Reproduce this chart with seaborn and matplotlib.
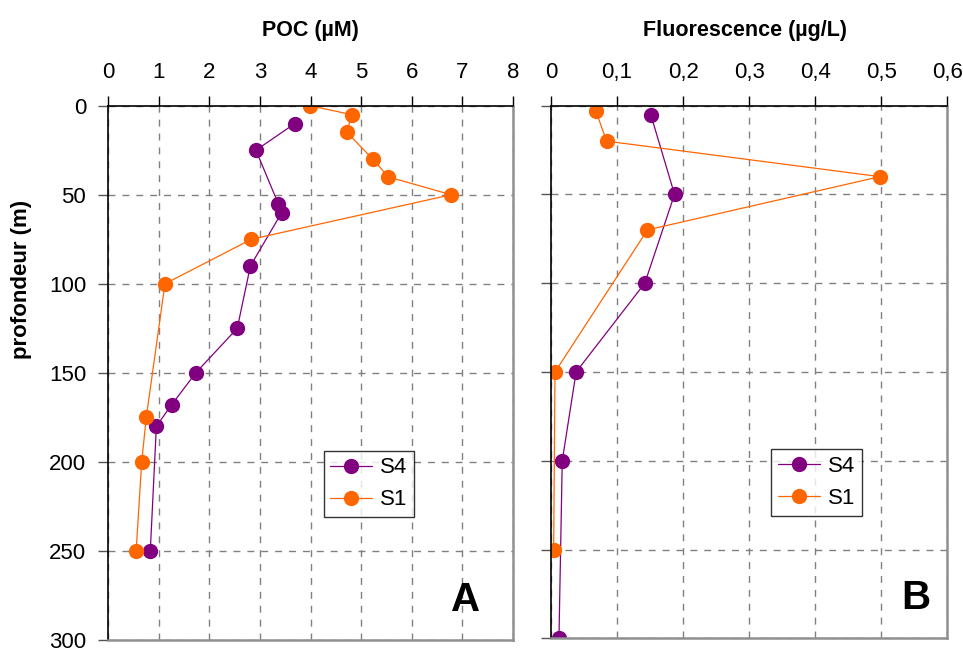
import seaborn as sns
import numpy as np
import matplotlib.pyplot as plt
import pandas as pd

# profils verticaux - POC et fluorescence, stations S4 et S1
poc_s4_depth = [10, 25, 55, 60, 90, 125, 150, 168, 180, 250]
poc_s4 = [3.69, 2.92, 3.36, 3.43, 2.81, 2.55, 1.73, 1.25, 0.95, 0.83]
poc_s1_depth = [0, 5, 15, 30, 40, 50, 75, 100, 175, 200, 250]
poc_s1 = [3.99, 4.81, 4.72, 5.23, 5.54, 6.78, 2.83, 1.12, 0.75, 0.66, 0.55]

fluo_s4_depth = [5, 50, 100, 150, 200, 300]
fluo_s4 = [0.151, 0.187, 0.142, 0.038, 0.017, 0.012]
fluo_s1_depth = [3, 20, 40, 70, 150, 250]
fluo_s1 = [0.068, 0.084, 0.498, 0.146, 0.006, 0.004]

purple = "#800080"
orange = "#FF6600"

sns.set_style("white")
plt.rcParams['font.family'] = ['Liberation Sans', 'DejaVu Sans']
plt.rcParams['text.color'] = 'black'
plt.rcParams['xtick.color'] = 'black'
plt.rcParams['ytick.color'] = 'black'

fig = plt.figure(figsize=(9.63, 6.5), dpi=100)
ax1 = fig.add_axes([0.1125, 0.0154, 0.42, 0.822])
ax2 = fig.add_axes([0.5722, 0.018, 0.4115, 0.8195])


def profil(ax, x4, d4, x1, d1, xmax, xstep, letter, lpos, legx):
    sns.lineplot(x=x4, y=d4, ax=ax, sort=False, estimator=None, color=purple,
                 lw=0.9, marker='o', markersize=11, markeredgewidth=0, label='S4')
    sns.lineplot(x=x1, y=d1, ax=ax, sort=False, estimator=None, color=orange,
                 lw=0.9, marker='o', markersize=11, markeredgewidth=0, label='S1')
    ax.set_xlim(0, xmax)
    ax.set_ylim(300, 0)
    ax.set_xticks(np.arange(0, xmax + xstep / 2, xstep))
    ax.set_yticks(range(0, 301, 50))
    ax.xaxis.tick_top()
    ax.tick_params(axis='x', top=True, bottom=False, length=7, width=1,
                   pad=9, labelsize=16, color='black', labelcolor='black')
    ax.tick_params(axis='y', left=True, length=7, width=1, pad=9,
                   labelsize=16, color='#555555', labelcolor='black')
    ax.grid(True, ls=(0, (5, 5)), color='#808080', lw=1)
    for s in ['left', 'top']:
        ax.spines[s].set_color('black')
        ax.spines[s].set_linewidth(1.2)
    for s in ['right', 'bottom']:
        ax.spines[s].set_color('#909090')
        ax.spines[s].set_linewidth(1.8)
    ax.set_xlabel('')
    ax.set_ylabel('')
    leg = ax.legend(loc='lower left', bbox_to_anchor=(legx, 0.23), fontsize=16,
                    frameon=True, fancybox=False, edgecolor='black',
                    borderpad=0.3, handlelength=1.9, labelspacing=0.5,
                    handletextpad=0.35, borderaxespad=0)
    leg.get_frame().set_linewidth(1)
    ax.text(lpos, 0.04, letter, transform=ax.transAxes, fontsize=29,
            fontweight='bold', ha='right', va='bottom')


profil(ax1, poc_s4, poc_s4_depth, poc_s1, poc_s1_depth, 8, 1, 'A', 0.92, 0.532)
profil(ax2, fluo_s4, fluo_s4_depth, fluo_s1, fluo_s1_depth, 0.6, 0.1, 'B', 0.958, 0.555)

ax2.set_xticklabels(['0', '0,1', '0,2', '0,3', '0,4', '0,5', '0,6'])
ax2.tick_params(axis='y', labelleft=False)

fig.text(0.322, 0.953, 'POC (µM)', ha='center', va='center', fontsize=15.5, fontweight='bold')
fig.text(0.774, 0.953, 'Fluorescence (µg/L)', ha='center', va='center', fontsize=15.5, fontweight='bold')
fig.text(0.022, 0.57, 'profondeur (m)', ha='center', va='center', rotation=90,
         fontsize=16, fontweight='bold')

fig.savefig('out.png', dpi=100)
